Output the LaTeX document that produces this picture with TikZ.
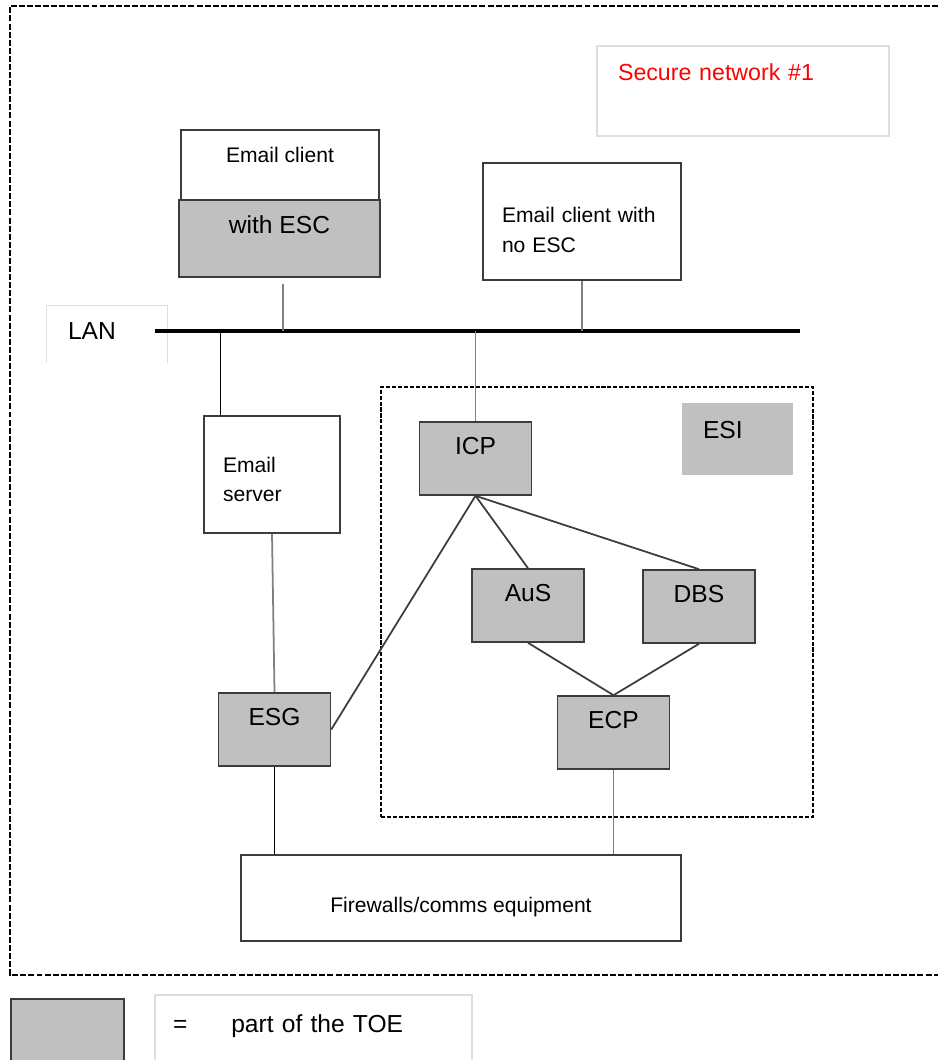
\documentclass[tikz,border=0pt]{standalone}
\usepackage{fontspec}
\setmainfont{Liberation Sans}
\usetikzlibrary{calc}
\definecolor{toegray}{RGB}{192,192,192}
\definecolor{edgegray}{RGB}{60,60,60}
\definecolor{pale}{RGB}{222,222,222}
\definecolor{wiregray}{RGB}{128,128,128}

\begin{document}
\begin{tikzpicture}[x=0.02cm, y=-0.02cm,
        box/.style={draw=edgegray, line width=0.9pt, fill=white, font=\fontsize{12}{17}\selectfont},
        toe/.style={box, fill=toegray, minimum width=2.24cm, minimum height=1.46cm,
            font=\fontsize{14}{16}\selectfont, text height=10pt, text depth=15.1pt},
        palebox/.style={draw=pale, line width=0.8pt},
        wire/.style={wiregray, line width=1pt},
        bwire/.style={black, line width=0.7pt}]

    \useasboundingbox (0,0) rectangle (938,1060);

    % secure network #1
    \draw[line width=0.8pt, dash pattern=on 3.4pt off 1.2pt] (938,6) -- (10,6) -- (10,975) -- (938,975);
    \node[palebox, minimum width=5.84cm, minimum height=1.80cm, inner xsep=0.42cm, text width=5.0cm,
        align=left, text=red, font=\fontsize{13.2}{16}\selectfont, text height=10pt, text depth=22.5pt]
        (secure) at (743,91) {Secure network \#1};

    % ESI zone
    \node[draw, line width=0.7pt, dash pattern=on 2.3pt off 1.1pt, minimum width=8.64cm, minimum height=8.6cm]
        (esizone) at (597,602) {};
    \node[fill=toegray, minimum width=2.22cm, minimum height=1.44cm, inner xsep=0.42cm, text width=1.38cm,
        align=left, font=\fontsize{14}{16}\selectfont, text height=10pt, text depth=11.1pt]
        (esi) at (737.5,439) {ESI};

    % clients and LAN
    \node[box, minimum width=3.96cm, minimum height=1.40cm, text height=9pt, text depth=12.4pt]
        (client) at (280,165) {Email client};
    \node[toe, minimum width=4.02cm, minimum height=1.54cm, text height=9pt, text depth=15.2pt]
        (esc) at (279.5,238.5) {with ESC};
    \node[box, minimum width=3.96cm, minimum height=2.34cm, inner xsep=0.38cm, text width=3.2cm,
        align=left, text height=10pt, text depth=8.3pt]
        (noesc) at (582,221.5) {Email client with\\no ESC};
    \node[minimum width=2.40cm, minimum height=1.14cm, inner xsep=0.42cm, text width=1.56cm,
        align=left, font=\fontsize{14}{16}\selectfont, text height=10pt, text depth=3.8pt]
        (lan) at (107,334.5) {LAN};
    \draw[palebox] (lan.south west) -- (lan.north west) -- (lan.north east) -- (lan.south east);

    % servers
    \node[box, minimum width=2.72cm, minimum height=2.34cm, inner xsep=0.38cm, text width=1.96cm,
        align=left, text height=10pt, text depth=12.8pt]
        (server) at (272,474.5) {Email\\server};
    \node[toe] (esg) at (274.5,729.5) {ESG};
    \node[toe] (icp) at (475.5,458.5) {ICP};
    \node[toe] (aus) at (528,605.5) {AuS};
    \node[toe] (dbs) at (699,606.5) {DBS};
    \node[toe] (ecp) at (613.5,732.5) {ECP};
    \node[box, minimum width=8.8cm, minimum height=1.72cm, text height=17pt, text depth=0pt]
        (fw) at (461,898) {Firewalls/comms equipment};

    % connections
    \coordinate (busW) at (155,331);
    \coordinate (busE) at (800,331);
    \draw[line width=2.3pt] (busW) -- (busE);
    \coordinate (esctap) at ([shift={(2pt,-3.4pt)}]esc.south);
    \draw[wire] (esctap) -- (esctap |- busW);
    \draw[wire] (noesc.south) -- (noesc.south |- busW);
    \coordinate (srvtap) at ($(server.north west)+(17,0)$);
    \draw[bwire] (srvtap |- busW) -- (srvtap);
    \draw[wire] (icp.north |- busW) -- (icp.north);
    \draw[wire] (server.south) -- (esg.north);
    \draw[bwire] (esg.south) -- (esg.south |- fw.north);
    \draw[wire, edgegray] (esg.east) -- (icp.south);
    \draw[wire, edgegray] (icp.south) -- (aus.north);
    \draw[wire, edgegray] (icp.south) -- (dbs.north);
    \draw[wire, edgegray] (aus.south) -- (ecp.north);
    \draw[wire, edgegray] (dbs.south) -- (ecp.north);
    \draw[wire] (ecp.south) -- (ecp.south |- fw.north);

    % legend
    \node[toe, minimum width=2.26cm, minimum height=1.52cm] (legendbox) at (67.5,1037) {};
    \node[palebox, minimum width=6.34cm, minimum height=1.6cm, inner xsep=0.36cm, text width=5.62cm,
        align=left, font=\fontsize{14}{16}\selectfont, text height=10pt, text depth=13.4pt]
        (legendtxt) at (313.5,1035) {=\hspace{25pt}part of the TOE};
\end{tikzpicture}
\end{document}
